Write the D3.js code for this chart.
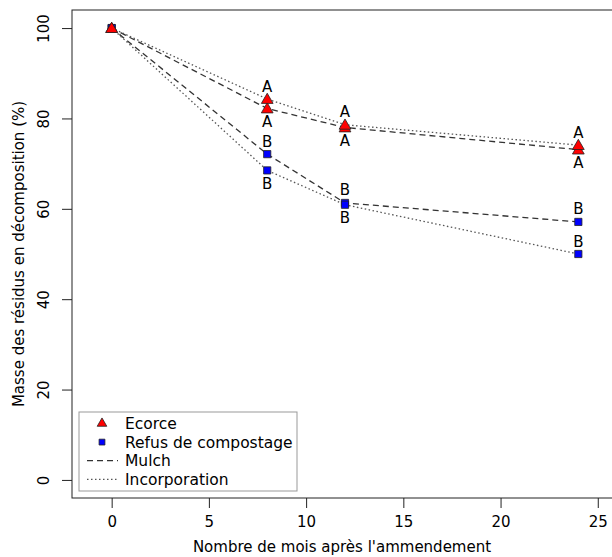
<!DOCTYPE html>
<html>
<head>
<meta charset="utf-8">
<script src="https://d3js.org/d3.v7.min.js"></script>
<style>
  body { margin: 0; background: #fff; }
  text { font-family: "DejaVu Sans", Verdana, sans-serif; fill: #000; }
</style>
</head>
<body>
<svg id="chart" width="612" height="557"></svg>
<script>
// months after amendment
const months = [0, 8, 12, 24];

// residue mass (%) per treatment
const ecorceMulch  = [100, 82.2, 78.0, 73.1];
const ecorceIncorp = [100, 84.3, 78.6, 74.1];
const refusMulch   = [100, 72.1, 61.3, 57.1];
const refusIncorp  = [100, 68.5, 60.9, 50.0];

// significance letters (none at month 0), and side: 1 above, -1 below
const ecorceLetters = ["", "A", "A", "A"];
const refusLetters  = ["", "B", "B", "B"];
const ecorceMulchSide  = [0, -1, -1, -1];
const ecorceIncorpSide = [0, 1, 1, 1];
const refusMulchSide   = [0, 1, 1, 1];
const refusIncorpSide  = [0, -1, -1, 1];

const xTicks = [0, 5, 10, 15, 20, 25];
const yTicks = [0, 20, 40, 60, 80, 100];

const svg = d3.select("#chart");
const box = {left: 72, top: 10, right: 618, bottom: 498};
const fs = "15px";

const x = d3.scaleLinear().domain([-2.04, 26.04]).range([box.left, box.right]);
const y = d3.scaleLinear().domain([-4, 104]).range([box.bottom, box.top]);

// frame
svg.append("rect")
  .attr("x", box.left).attr("y", box.top)
  .attr("width", box.right - box.left).attr("height", box.bottom - box.top)
  .attr("fill", "none").attr("stroke", "#222").attr("stroke-width", 1);

// x axis
const xAxis = svg.append("g")
  .attr("transform", "translate(0," + box.bottom + ")")
  .call(d3.axisBottom(x).tickValues(xTicks).tickSize(10).tickPadding(8).tickSizeOuter(0));
xAxis.select(".domain").remove();
xAxis.selectAll("line").attr("stroke", "#222");
xAxis.selectAll("text").style("font-size", fs).style("font-family", "DejaVu Sans");

// y axis, labels turned like R's default
const yAxis = svg.append("g")
  .attr("transform", "translate(" + box.left + ",0)")
  .call(d3.axisLeft(y).tickValues(yTicks).tickSize(10).tickSizeOuter(0));
yAxis.select(".domain").remove();
yAxis.selectAll("line").attr("stroke", "#222");
yAxis.selectAll("text")
  .style("font-size", fs).style("font-family", "DejaVu Sans")
  .attr("x", 0).attr("y", 0).attr("dy", 0)
  .attr("text-anchor", "middle")
  .attr("transform", "translate(-23,0) rotate(-90)");

// axis titles
svg.append("text")
  .attr("x", (box.left + box.right) / 2 - 3).attr("y", 552)
  .attr("text-anchor", "middle").style("font-size", fs)
  .text("Nombre de mois après l'ammendement");

svg.append("text")
  .attr("transform", "translate(24," + ((box.top + box.bottom) / 2) + ") rotate(-90)")
  .attr("text-anchor", "middle").style("font-size", fs)
  .text("Masse des résidus en décomposition (%)");

const line = d3.line().x((d, i) => x(months[i])).y(d => y(d));

const series = [
  {vals: refusMulch, dash: "6,4", color: "#333", shape: "square", letters: refusLetters, side: refusMulchSide},
  {vals: refusIncorp, dash: "1.5,2.5", color: "#555", shape: "square", letters: refusLetters, side: refusIncorpSide},
  {vals: ecorceMulch, dash: "6,4", color: "#333", shape: "triangle", letters: ecorceLetters, side: ecorceMulchSide},
  {vals: ecorceIncorp, dash: "1.5,2.5", color: "#555", shape: "triangle", letters: ecorceLetters, side: ecorceIncorpSide}
];

series.forEach(s => {
  svg.append("path")
    .datum(s.vals)
    .attr("d", line)
    .attr("fill", "none")
    .attr("stroke", s.color)
    .attr("stroke-width", 1.3)
    .attr("stroke-dasharray", s.dash);
});

const tri = d3.symbol().type(d3.symbolTriangle).size(60);
const sq = d3.symbol().type(d3.symbolSquare).size(52);

series.forEach(s => {
  svg.append("g").selectAll("path")
    .data(s.vals)
    .join("path")
    .attr("d", s.shape === "triangle" ? tri : sq)
    .attr("transform", (d, i) => "translate(" + x(months[i]) + "," + (y(d) + (s.shape === "triangle" ? 1 : 0)) + ")")
    .attr("fill", s.shape === "triangle" ? "#ff0000" : "#0000ff")
    .attr("stroke", "#222")
    .attr("stroke-width", 0.8);
});

series.forEach(s => {
  svg.append("g").selectAll("text")
    .data(s.vals)
    .join("text")
    .attr("x", (d, i) => x(months[i]))
    .attr("y", (d, i) => y(d) - s.side[i] * 13 + 5.5)
    .attr("text-anchor", "middle")
    .style("font-size", fs)
    .text((d, i) => s.letters[i]);
});

// legend
const lg = svg.append("g");
lg.append("rect")
  .attr("x", 79).attr("y", 412).attr("width", 218).attr("height", 79)
  .attr("fill", "#fff").attr("stroke", "#999").attr("stroke-width", 1);

const legendRows = [
  {label: "Ecorce", kind: "triangle"},
  {label: "Refus de compostage", kind: "square"},
  {label: "Mulch", kind: "dash"},
  {label: "Incorporation", kind: "dot"}
];

legendRows.forEach((r, i) => {
  const cy = 423.5 + i * 18.6;
  if (r.kind === "triangle") {
    lg.append("path").attr("d", d3.symbol().type(d3.symbolTriangle).size(40))
      .attr("transform", "translate(102," + cy + ")")
      .attr("fill", "#ff0000").attr("stroke", "#222").attr("stroke-width", 0.8);
  } else if (r.kind === "square") {
    lg.append("path").attr("d", d3.symbol().type(d3.symbolSquare).size(34))
      .attr("transform", "translate(102," + cy + ")")
      .attr("fill", "#0000ff").attr("stroke", "#222").attr("stroke-width", 0.8);
  } else {
    lg.append("line")
      .attr("x1", 87).attr("x2", 118).attr("y1", cy).attr("y2", cy)
      .attr("stroke", r.kind === "dash" ? "#333" : "#555")
      .attr("stroke-width", 1.2)
      .attr("stroke-dasharray", r.kind === "dash" ? "6,4" : "1.5,2.5");
  }
  lg.append("text")
    .attr("x", 125).attr("y", cy + 5.5)
    .style("font-size", "15.5px")
    .text(r.label);
});
</script>
</body>
</html>
